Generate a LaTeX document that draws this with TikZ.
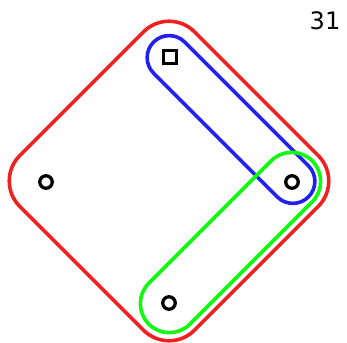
\documentclass[tikz,border=0pt]{standalone}
\usepackage{fontspec}
\setmainfont{DejaVu Sans}
\usetikzlibrary{calc, positioning}
\definecolor{hullred}{RGB}{240,32,32}
\definecolor{hullblue}{RGB}{32,32,240}
\definecolor{hullgreen}{RGB}{16,250,16}
\tikzset{
    vertex/.style={draw=black, line width=3.3pt, circle, minimum size=12.5pt, inner sep=0pt},
    sqvertex/.style={draw=black, line width=3.3pt, rectangle, minimum size=12.5pt, inner sep=0pt},
    hull/.style={line width=3.6pt, rectangle, inner sep=0pt, outer sep=0pt}
}

\begin{document}
\begin{tikzpicture}[x=1pt, y=1pt]
        \useasboundingbox (0,0) rectangle (347,342);
        \node [sqvertex] (top) at (170,285) {};
        \node [vertex] (left) at (46,160) {};
        \node [vertex] (right) at (292,160) {};
        \node [vertex] (bottom) at (169,39) {};
        \node [hull, draw=hullred, rotate=45, minimum width=247pt, minimum height=247pt, rounded corners=36pt] (all) at (169,161) {};
        \node [hull, draw=hullblue, rotate=-45, minimum width=219pt, minimum height=44pt, rounded corners=22pt] (tr) at ($(top)!0.5!(right)$) {};
        \node [hull, draw=hullgreen, rotate=45, minimum width=231pt, minimum height=58pt, rounded corners=29pt] (rb) at ($(right)!0.5!(bottom)$) {};
        \node [font=\fontsize{24}{28}\selectfont] (num) at (325,321) {31};
    \end{tikzpicture}
\end{document}
